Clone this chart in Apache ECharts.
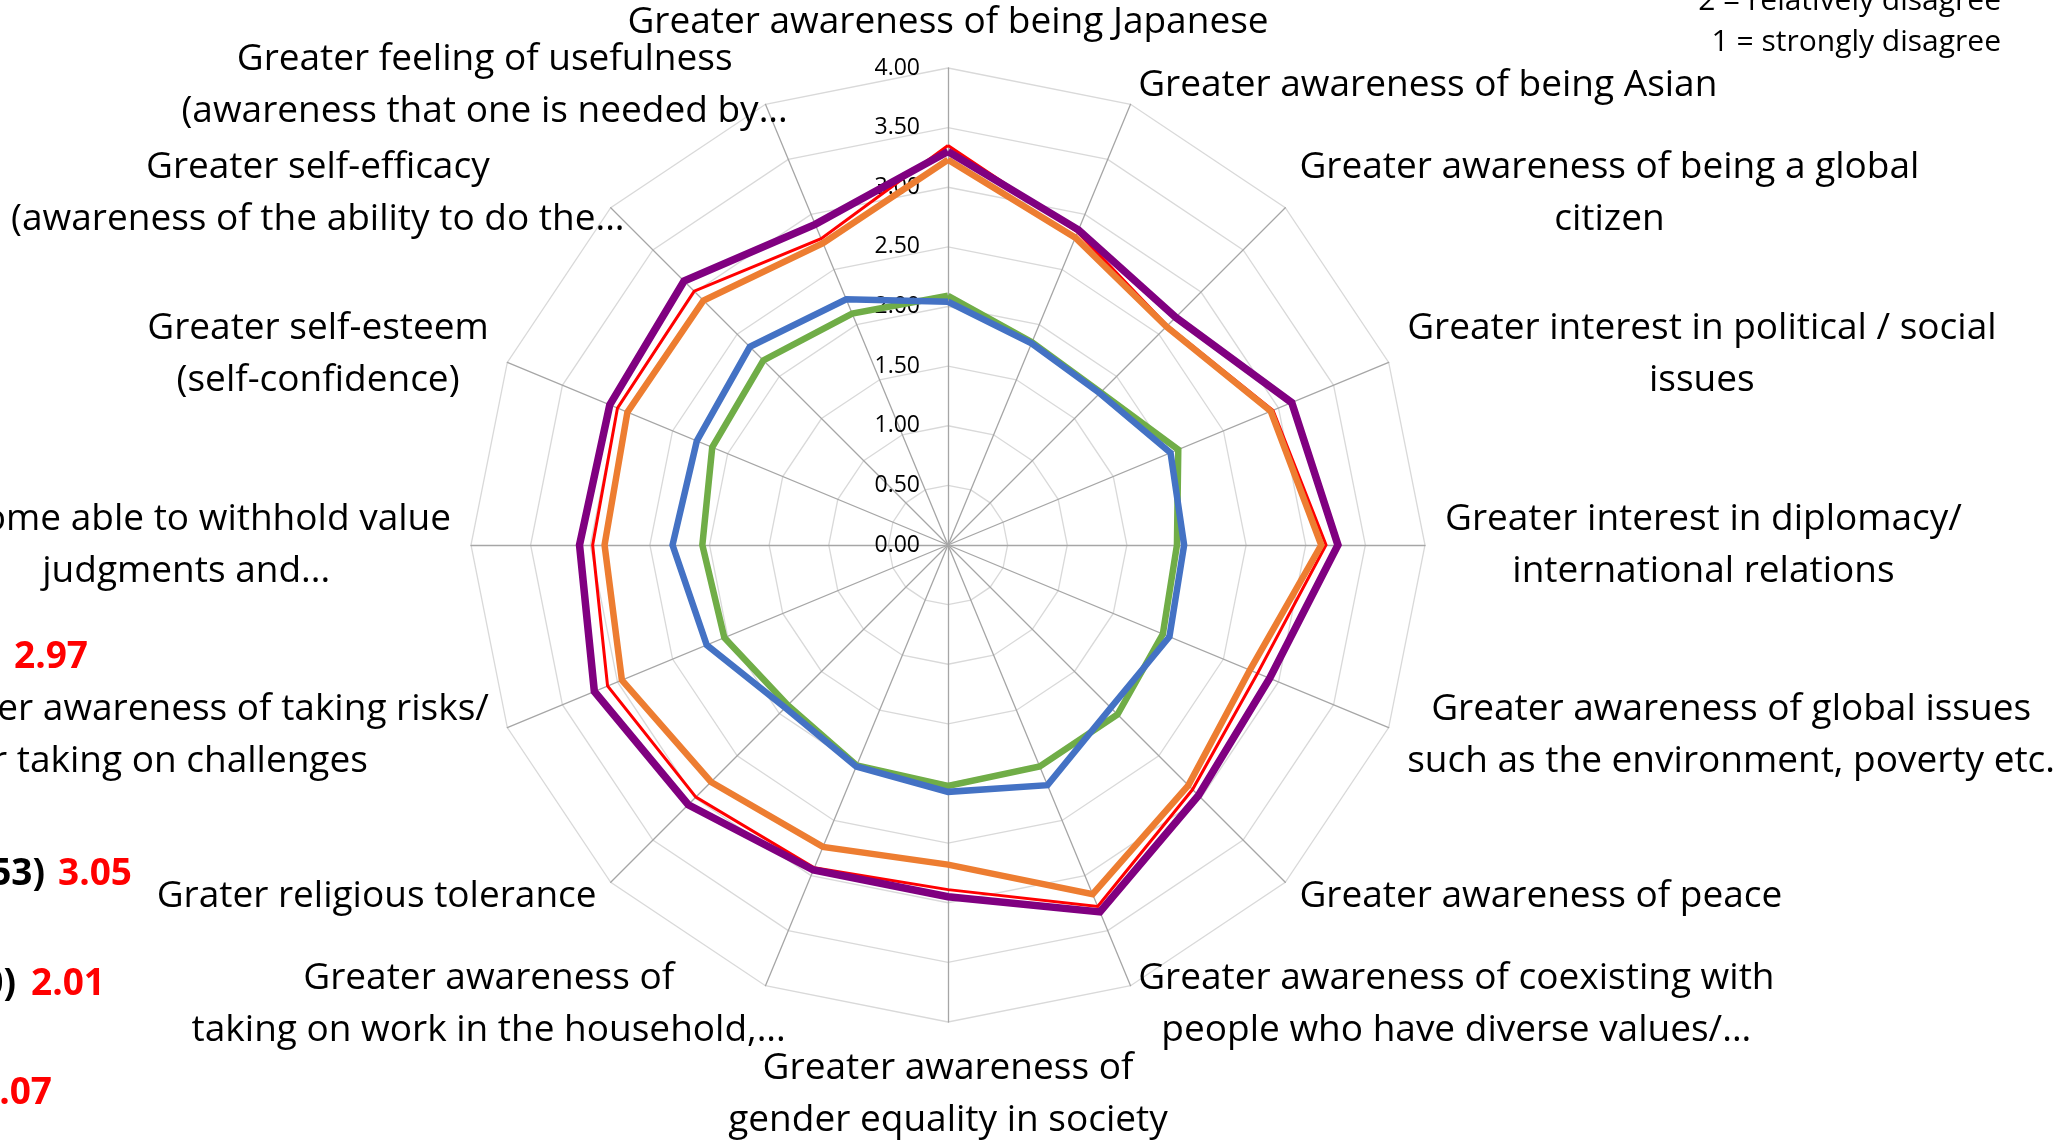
<!DOCTYPE html>
<html>
<head>
<meta charset="utf-8">
<script src="https://cdn.jsdelivr.net/npm/echarts@6/dist/echarts.min.js"></script>
<style>
html, body { margin: 0; padding: 0; background: #fff; }
#chart { width: 2058px; height: 1144px; }
</style>
</head>
<body>
<div id="chart"></div>
<script>
// axes, clockwise starting at the top
var axisNames = [
  'Greater awareness of being Japanese',
  'Greater awareness of being Asian',
  'Greater awareness of being a global\ncitizen',
  'Greater interest in political / social\nissues',
  'Greater interest in diplomacy/\ninternational relations',
  'Greater awareness of global issues\nsuch as the environment, poverty etc.',
  'Greater awareness of peace',
  'Greater awareness of coexisting with\npeople who have diverse values/...',
  'Greater awareness of\ngender equality in society',
  'Greater awareness of\ntaking on work in the household,...',
  'Grater religious tolerance',
  'Greater awareness of taking risks/\nor taking on challenges',
  'Become able to withhold value\njudgments and...',
  'Greater self-esteem\n(self-confidence)',
  'Greater self-efficacy\n(awareness of the ability to do the...',
  'Greater feeling of usefulness\n(awareness that one is needed by...'
];
var ticks = [0, 0.5, 1, 1.5, 2, 2.5, 3, 3.5, 4];

var redVals    = [3.35, 2.84, 2.60, 2.95, 3.17, 2.81, 2.90, 3.28, 2.89, 2.93, 2.99, 3.09, 2.98, 3.00, 3.01, 2.78];
var orangeVals = [3.23, 2.79, 2.59, 2.93, 3.13, 2.74, 2.85, 3.17, 2.68, 2.74, 2.81, 2.96, 2.88, 2.91, 2.90, 2.74];
var purpleVals = [3.30, 2.86, 2.70, 3.12, 3.27, 2.92, 2.97, 3.33, 2.95, 2.95, 3.08, 3.21, 3.09, 3.07, 3.13, 2.91];
var greenVals  = [2.09, 1.84, 1.81, 2.09, 1.92, 1.95, 2.01, 2.01, 2.02, 2.00, 1.90, 2.03, 2.06, 2.14, 2.19, 2.10];
var blueVals   = [2.04, 1.83, 1.80, 2.02, 1.98, 2.01, 1.93, 2.18, 2.07, 2.01, 1.93, 2.19, 2.31, 2.28, 2.35, 2.23];

var avgLabels = ['2.97', '3.05', '2.01', '2.07'];
var scaleNote = ['2 = relatively disagree', '1 = strongly disagree'];

var font = '"Open Sans", "Noto Sans", sans-serif';

// echarts runs counter-clockwise, so walk the axes backwards
var order = [0];
for (var k = axisNames.length - 1; k > 0; k--) order.push(k);

// a few of the left labels sit further right in the original
var nameShift = { 9: 28, 14: 28, 15: 30 };
// second line of the "taking risks" label sits a bit left
var nudgedLine = { 11: 1 };

var indicator = order.map(function (k, i) {
  var ind = { name: axisNames[k], min: 0, max: ticks[ticks.length - 1] };
  if (i === 0) ind.axisLabel = { show: true };
  if (nameShift[k]) ind.nameTextStyle = { padding: [0, -nameShift[k], 0, 0] };
  return ind;
});

function reorder(arr) {
  return order.map(function (k) { return arr[k]; });
}

function line(name, vals, color, width) {
  return {
    type: 'radar',
    name: name,
    symbol: 'none',
    lineStyle: { color: color, width: width, join: 'miter' },
    itemStyle: { color: color },
    data: [{ value: reorder(vals), name: name }]
  };
}

var chart = echarts.init(document.getElementById('chart'));
var option = {
  backgroundColor: '#fff',
  animation: false,
  textStyle: { fontFamily: font },
  radar: {
    center: [948, 545],
    radius: 477,
    startAngle: 90,
    shape: 'polygon',
    splitNumber: ticks.length - 1,
    nameGap: 20,
    indicator: indicator,
    axisName: {
      color: '#000',
      fontSize: 37,
      lineHeight: 52,
      fontFamily: font,
      formatter: function (name) {
        var k = axisNames.indexOf(name);
        return name.split('\n').map(function (l, j) {
          return (nudgedLine[k] === j ? '{n|' : '{c|') + l + '}';
        }).join('\n');
      },
      rich: {
        c: { align: 'center', color: '#000', fontSize: 37, lineHeight: 52, fontFamily: font },
        n: { align: 'center', color: '#000', fontSize: 37, lineHeight: 52, fontFamily: font, padding: [0, 52, 0, 0] }
      }
    },
    axisLabel: {
      show: false,
      color: '#000',
      fontSize: 23,
      fontFamily: font,
      margin: 28,
      formatter: function (v) { return Number(v).toFixed(2); }
    },
    axisTick: { show: false },
    axisLine: { lineStyle: { color: '#a6a6a6', width: 1.3 } },
    splitLine: { lineStyle: { color: '#d9d9d9', width: 1.3 } },
    splitArea: { show: false }
  },
  series: [
    line('Series 1', redVals, '#ff0000', 3),
    line('Series 2', orangeVals, '#ed7d31', 6.5),
    line('Series 3', purpleVals, '#800080', 7.5),
    line('Series 4', greenVals, '#70ad47', 6.5),
    line('Series 5', blueVals, '#4472c4', 6.5)
  ],
  graphic: [
    { type: 'text', x: 2001, y: 1, style: { text: scaleNote[0], align: 'right', verticalAlign: 'middle', font: '30px ' + font, fill: '#000' } },
    { type: 'text', x: 2001, y: 42, style: { text: scaleNote[1], align: 'right', verticalAlign: 'middle', font: '30px ' + font, fill: '#000' } },
    { type: 'text', x: 14, y: 657, style: { text: avgLabels[0], align: 'left', verticalAlign: 'middle', font: 'bold 37px ' + font, fill: '#ff0000' } },
    { type: 'text', x: 45, y: 874, style: { text: '53)', align: 'right', verticalAlign: 'middle', font: 'bold 37px ' + font, fill: '#000' } },
    { type: 'text', x: 58, y: 874, style: { text: avgLabels[1], align: 'left', verticalAlign: 'middle', font: 'bold 37px ' + font, fill: '#ff0000' } },
    { type: 'text', x: 16, y: 984, style: { text: '0)', align: 'right', verticalAlign: 'middle', font: 'bold 37px ' + font, fill: '#000' } },
    { type: 'text', x: 31, y: 984, style: { text: avgLabels[2], align: 'left', verticalAlign: 'middle', font: 'bold 37px ' + font, fill: '#ff0000' } },
    { type: 'text', x: 52, y: 1093, style: { text: avgLabels[3], align: 'right', verticalAlign: 'middle', font: 'bold 37px ' + font, fill: '#ff0000' } }
  ]
};
chart.setOption(option);
</script>
</body>
</html>
